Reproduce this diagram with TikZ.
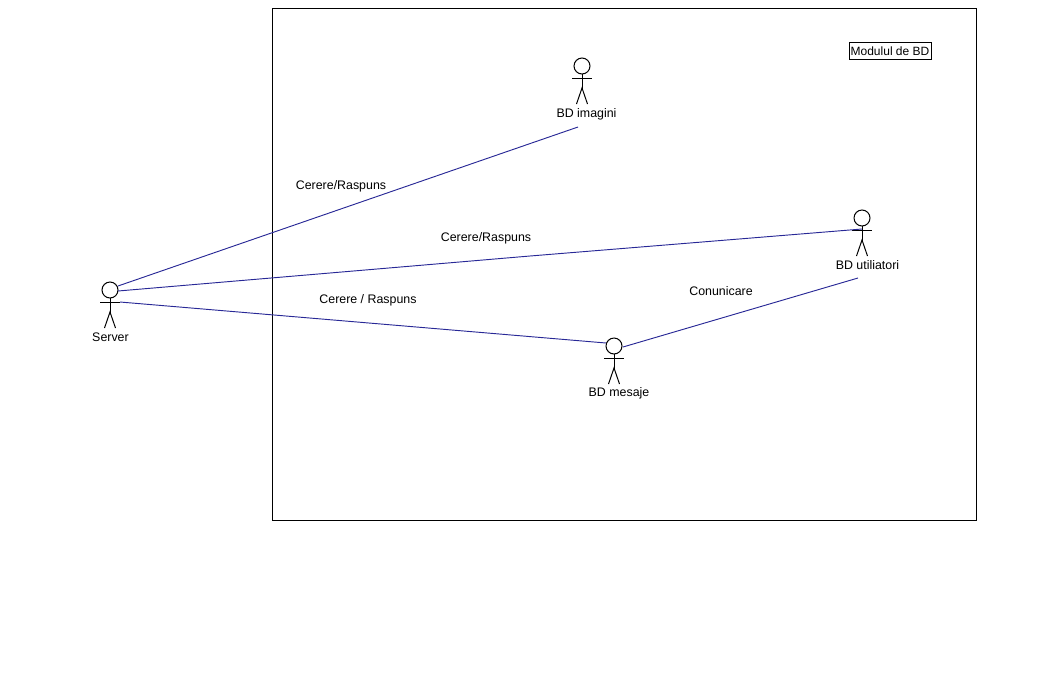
\documentclass[tikz,border=0pt]{standalone}
\usepackage{fontspec}
\setmainfont{Liberation Sans}
\definecolor{assoc}{RGB}{40,40,150}
\tikzset{
 lbl/.style={inner sep=0pt,font=\fontsize{9.3}{11}\selectfont,black},
 limb/.style={black,line width=.75pt},
 assocline/.style={assoc,line width=.7pt},
}
% stick figure: name, x of the head, y of the head
\newcommand{\actor}[3]{
 \draw[limb] (#2,#3) circle (6pt);
 \draw[limb] (#2,#3+8) -- (#2,#3+24);
 \draw[limb] (#2-10,#3+12) -- (#2+10,#3+12);
 \draw[limb] (#2-5.5,#3+38) -- (#2,#3+22) -- (#2+5.5,#3+38);
 \coordinate (#1) at (#2,#3);
}
\begin{document}
\begin{tikzpicture}[x=0.75pt,y=-0.75pt]
 \useasboundingbox (0,0) rectangle (1056,672);
 \node[draw,black,line width=.75pt,minimum width=528pt,minimum height=384pt,inner sep=0pt,anchor=north west] (modul) at (271.5,8) {};
 \node[draw,black,line width=.75pt,lbl,font=\fontsize{9}{11}\selectfont,minimum width=61.5pt,minimum height=13pt] (note) at (890,51) {Modulul de BD};
 \actor{server}{110}{290}
 \actor{imagini}{582}{66}
 \actor{utiliz}{862}{218}
 \actor{mesaje}{614}{346}
 \node[lbl] (server label) at (110.5,337.5) {Server};
 \node[lbl] (imagini label) at (586.5,114) {BD imagini};
 \node[lbl] (utiliz label) at (867.5,265.5) {BD utiliatori};
 \node[lbl] (mesaje label) at (619,393.5) {BD mesaje};
 % capetele liniilor
 \coordinate (s1) at (118,286);
 \coordinate (s2) at (118,291);
 \coordinate (s3) at (120,302);
 \coordinate (i1) at (578,127);
 \coordinate (u1) at (862,229);
 \coordinate (u2) at (858,278);
 \coordinate (m1) at (606,343);
 \coordinate (m2) at (623,347);
 \coordinate (k) at (530,256);
 \draw[assocline] (s1) -- (i1);
 \draw[assocline] (s2) -- (k) -- (u1);
 \draw[assocline] (s3) -- (m1);
 \draw[assocline] (m2) -- (u2);
 \node[lbl] (t1) at (341,186.5) {Cerere/Raspuns};
 \node[lbl] (t2) at (486,238) {Cerere/Raspuns};
 \node[lbl] (t3) at (368,300.5) {Cerere / Raspuns};
 \node[lbl] (t4) at (721,291) {Conunicare};
\end{tikzpicture}
\end{document}
